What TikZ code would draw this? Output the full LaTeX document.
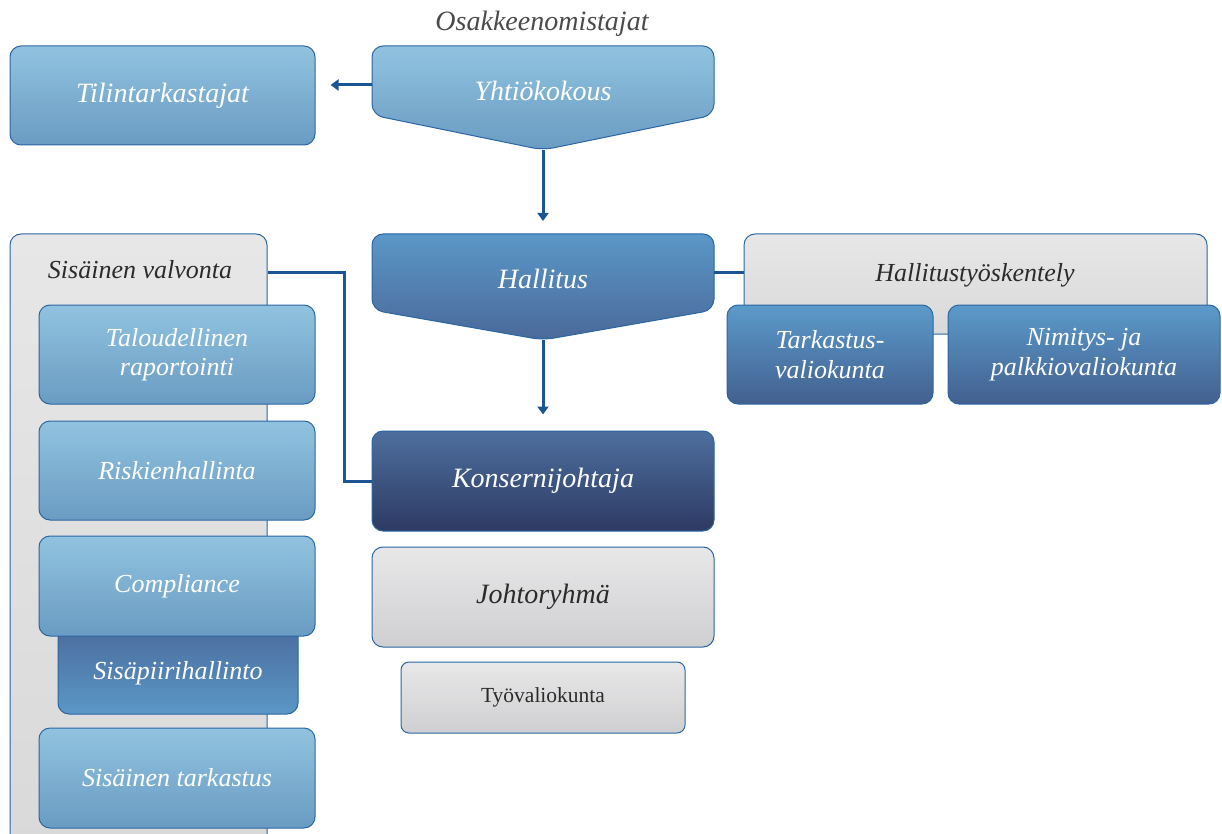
\documentclass[tikz,border=0pt]{standalone}
\usepackage{fontspec}
\setmainfont{Liberation Serif}
\usetikzlibrary{arrows.meta}

\definecolor{bord}{HTML}{2B66A3}
\definecolor{connc}{HTML}{1B5595}
\definecolor{lbA}{HTML}{91C3E0}
\definecolor{lbB}{HTML}{6A9BC2}
\definecolor{mbA}{HTML}{5A97C7}
\definecolor{mbB}{HTML}{4A6999}
\definecolor{dbA}{HTML}{4D6F9E}
\definecolor{dbB}{HTML}{2D3A63}
\definecolor{cbA}{HTML}{5B9ACA}
\definecolor{cbB}{HTML}{43608F}
\definecolor{grA}{HTML}{E8E8E9}
\definecolor{grB}{HTML}{CFCFD1}
\definecolor{ctA}{HTML}{E7E7E7}
\definecolor{ctB}{HTML}{D9D9DA}
\definecolor{darktxt}{HTML}{2B2B2B}
\definecolor{headtxt}{HTML}{4A4A4A}

\newcommand\fbig{\fontsize{28}{30}\selectfont\itshape}
\newcommand\fmid{\fontsize{26}{29.5}\selectfont\itshape}
\newcommand\fsmall{\fontsize{21.5}{23}\selectfont}

\begin{document}
\begin{tikzpicture}[x=1pt,y=-1pt,
  box/.style={draw=bord, line width=1pt, rounded corners=11pt, inner sep=0pt,
    align=center, text=white},
  lblue/.style={box, top color=lbA, bottom color=lbB},
  mblue/.style={box, top color=mbA, bottom color=mbB},
  dblue/.style={box, top color=dbA, bottom color=dbB},
  cblue/.style={box, top color=cbA, bottom color=cbB},
  rblue/.style={box, top color=mbB, bottom color=mbA},
  gbox/.style={box, top color=grA, bottom color=grB, text=darktxt},
  cont/.style={box, top color=ctA, bottom color=ctB},
  wtext/.style={text=white, inner sep=0pt, align=center},
  dtext/.style={text=darktxt, inner sep=0pt, align=center},
  conn/.style={draw=connc, line width=3pt},
  arr/.style={conn, -{Triangle[width=11pt,length=8pt]}}
]
\useasboundingbox (0,0) rectangle (1222,834);

% shareholders heading
\node[text=headtxt, inner sep=0pt, font=\fbig] (sh) at (542,24) {Osakkeenomistajat};

% auditors
\node[lblue, minimum width=305pt, minimum height=99pt, font=\fbig] (tt) at (162.5,95.5) {Tilintarkastajat};

% general meeting (pentagon shape)
\coordinate (yktip) at (543,150);
\path[draw=bord, line width=1pt, top color=lbA, bottom color=lbB, rounded corners=11pt]
  (372,46) -- (714,46) -- (714,115) -- (yktip) -- (372,115) -- cycle;
\node[wtext, font=\fbig] (yk) at (543,91) {Yhtiökokous};
\coordinate (ykleft) at (372,85);

% board (pentagon shape)
\coordinate (haltop) at (543,234);
\coordinate (haltip) at (543,340);
\path[draw=bord, line width=1pt, top color=mbA, bottom color=mbB, rounded corners=11pt]
  (372,234) -- (714,234) -- (714,310) -- (haltip) -- (372,310) -- cycle;
\node[wtext, font=\fbig] (hal) at (543,279) {Hallitus};
\coordinate (halright) at (714,272);

% CEO and management
\node[dblue, minimum width=342pt, minimum height=100pt, font=\fbig] (kj) at (543,481) {Konsernijohtaja};
\node[gbox, minimum width=342pt, minimum height=100pt, font=\fbig] (jr) at (543,597) {Johtoryhmä};
\node[gbox, minimum width=284pt, minimum height=71pt, font=\fsmall, rounded corners=8pt] (tv) at (543,697.5) {Työvaliokunta};

% internal control group
\node[cont, minimum width=257pt, minimum height=616pt] (sv) at (138.5,542) {};
\node[dtext, font=\fmid] (svt) at (140,270) {Sisäinen valvonta};
\node[lblue, minimum width=276pt, minimum height=99pt, font=\fmid] (tr) at (177,354.5) {Taloudellinen\\raportointi};
\node[lblue, minimum width=276pt, minimum height=99pt, font=\fmid] (rh) at (177,470.5) {Riskienhallinta};
\node[rblue, minimum width=240pt, minimum height=94pt] (sp) at (178,667) {};
\node[wtext, font=\fmid] (spt) at (178,673) {Sisäpiirihallinto};
\node[lblue, minimum width=276pt, minimum height=100pt, font=\fmid] (co) at (177,586) {Compliance};
\node[lblue, minimum width=276pt, minimum height=100pt, font=\fmid] (st) at (177,778) {Sisäinen tarkastus};

% board work group
\node[cont, minimum width=463pt, minimum height=100pt] (hw) at (975.5,284) {};
\node[dtext, font=\fmid] (hwt) at (975,275) {Hallitustyöskentely};
\node[cblue, minimum width=206pt, minimum height=99pt, font=\fmid] (ta) at (830,354.5) {Tarkastus-\\valiokunta};
\node[cblue, minimum width=272pt, minimum height=99pt, font=\fmid] (np) at (1084,354.5) {Nimitys- ja\\palkkiovaliokunta};

% connectors
\draw[arr, shorten >=15pt] (ykleft) -- (tt.east |- ykleft);
\draw[arr, shorten >=13pt] (yktip) -- (haltop);
\draw[arr, shorten >=16pt] (haltip) -- (kj.north);
\draw[conn] (halright) -- (hw.west |- halright);
\coordinate (svbend) at (344,272);
\draw[conn] (sv.east |- svbend) -- (svbend) |- (kj.west);
\end{tikzpicture}
\end{document}
